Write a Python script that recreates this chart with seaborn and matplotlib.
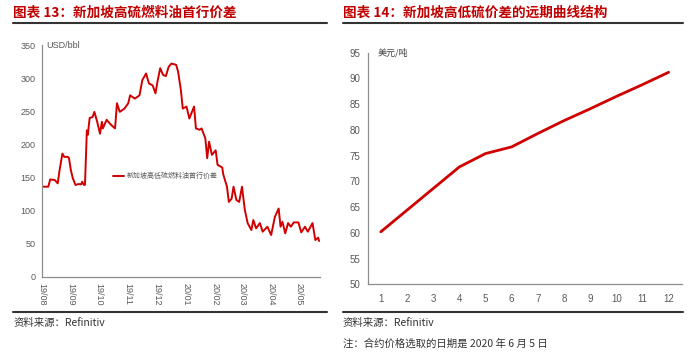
import pandas as pd
import matplotlib.pyplot as plt
import matplotlib.dates as mdates
from matplotlib.lines import Line2D
import seaborn as sns

# Fig 13: Singapore HSFO/LSFO front-month spread (USD/bbl)
spread_dates = ['2019-08-01', '2019-08-08', '2019-08-10', '2019-08-15', '2019-08-18', '2019-08-20',
                '2019-08-23', '2019-08-25', '2019-08-29', '2019-08-30', '2019-09-01', '2019-09-03',
                '2019-09-06', '2019-09-09', '2019-09-12', '2019-09-13', '2019-09-15', '2019-09-16',
                '2019-09-18', '2019-09-19', '2019-09-21', '2019-09-24', '2019-09-26', '2019-09-29',
                '2019-10-02', '2019-10-04', '2019-10-05', '2019-10-09', '2019-10-14', '2019-10-18',
                '2019-10-20', '2019-10-23', '2019-10-28', '2019-11-01', '2019-11-03', '2019-11-08',
                '2019-11-13', '2019-11-16', '2019-11-20', '2019-11-23', '2019-11-27', '2019-11-30',
                '2019-12-02', '2019-12-05', '2019-12-08', '2019-12-11', '2019-12-14', '2019-12-17',
                '2019-12-22', '2019-12-24', '2019-12-27', '2019-12-29', '2020-01-02', '2020-01-05',
                '2020-01-10', '2020-01-12', '2020-01-16', '2020-01-18', '2020-01-22', '2020-01-24',
                '2020-01-26', '2020-01-29', '2020-02-02', '2020-02-04', '2020-02-09', '2020-02-10',
                '2020-02-14', '2020-02-16', '2020-02-19', '2020-02-21', '2020-02-24', '2020-02-27',
                '2020-03-01', '2020-03-04', '2020-03-07', '2020-03-11', '2020-03-13', '2020-03-16',
                '2020-03-20', '2020-03-23', '2020-03-28', '2020-04-01', '2020-04-05', '2020-04-09',
                '2020-04-11', '2020-04-13', '2020-04-16', '2020-04-19', '2020-04-22', '2020-04-25',
                '2020-04-30', '2020-05-03', '2020-05-07', '2020-05-10', '2020-05-15', '2020-05-18',
                '2020-05-21', '2020-05-22']
spread_values = [136, 136, 147, 146, 141, 161,
                 186, 181, 181, 179, 161, 149,
                 138.5, 140, 139.5, 143.5, 138.5, 139,
                 221, 214, 240, 241, 249, 234,
                 216, 234, 224, 237, 229, 224,
                 262, 249, 254, 262, 274, 269,
                 274, 297, 307, 292, 289, 277,
                 294, 315, 305, 303, 317, 322,
                 320, 310, 282, 254, 257, 239,
                 257, 224, 222, 224, 209, 179,
                 204, 184, 191, 169, 165, 155,
                 136, 113, 118, 136, 116, 113,
                 136, 101, 81, 70.5, 85.6, 73,
                 81, 68, 75.5, 63, 90.6, 103,
                 75.5, 83, 65.5, 81, 75.5, 82,
                 82, 67, 75.5, 68, 81, 55.4,
                 59, 54]
month_ticks = ['2019-08-01', '2019-09-01', '2019-10-01', '2019-11-01', '2019-12-01',
               '2020-01-01', '2020-02-01', '2020-03-01', '2020-04-01', '2020-05-01']

# Fig 14: forward curve of the spread (USD/t)
contract_no = [1, 2, 3, 4, 5, 6, 7, 8, 9, 10, 11, 12]
curve_values = [60.2, 64.4, 68.6, 72.8, 75.4, 76.7, 79.3, 81.8, 84.1, 86.5, 88.8, 91.2]

sns.set_style("white")
plt.rcParams['font.family'] = ['Noto Sans CJK SC', 'DejaVu Sans']

red = '#D00000'
grey = '#595959'
axis_col = '#8C8C8C'
narrow = ['Liberation Sans Narrow', 'Liberation Sans', 'DejaVu Sans']

fig = plt.figure(figsize=(7, 3.53), dpi=100)
ax1 = fig.add_axes([0.0596, 0.2161, 0.3976, 0.6564])
ax2 = fig.add_axes([0.5253, 0.1946, 0.4486, 0.6561])

# left chart
df1 = pd.DataFrame({'date': pd.to_datetime(spread_dates), 'value': spread_values})
sns.lineplot(data=df1, x='date', y='value', ax=ax1, color=red, linewidth=1.4,
             label='新加坡高低硫燃料油首行价差')
ax1.set_xlim(pd.Timestamp('2019-08-01'), pd.Timestamp('2020-05-23'))
ax1.set_ylim(0, 350)
ax1.set_yticks(range(0, 351, 50))
ax1.set_xticks(pd.to_datetime(month_ticks))
ax1.xaxis.set_major_formatter(mdates.DateFormatter('%y/%m'))
ax1.set_xlabel('')
ax1.set_ylabel('')
for lab in ax1.get_xticklabels():
    lab.set_rotation(270)
ax1.tick_params(axis='both', labelsize=6.5, labelcolor=grey, color=axis_col,
                direction='out', length=2.5, width=0.8, pad=2)
for lab in ax1.get_xticklabels() + ax1.get_yticklabels():
    lab.set_family(narrow)
ax1.text(0.015, 1.0, 'USD/bbl', transform=ax1.transAxes, fontsize=6.5, color=grey,
         family=narrow, va='center', ha='left')
leg = ax1.legend(loc='center left', bbox_to_anchor=(0.255, 0.434), frameon=False,
                 fontsize=5, handlelength=1.7, handletextpad=0.3, borderpad=0,
                 borderaxespad=0)
for t in leg.get_texts():
    t.set_color(grey)

# right chart
df2 = pd.DataFrame({'contract': contract_no, 'value': curve_values})
sns.lineplot(data=df2, x='contract', y='value', ax=ax2, color=red, linewidth=2)
ax2.set_xlim(0.5, 12.5)
ax2.set_ylim(50, 95)
ax2.set_yticks(range(50, 96, 5))
ax2.set_xticks(contract_no)
ax2.set_xticks([c + 0.5 for c in [0] + contract_no], minor=True)
ax2.set_xlabel('')
ax2.set_ylabel('')
ax2.tick_params(axis='x', which='minor', direction='in', length=3, color=axis_col, width=0.8)
ax2.tick_params(axis='y', direction='out', length=2.5, color=axis_col, width=0.8)
ax2.tick_params(axis='both', labelsize=7, labelcolor=grey, pad=3)
ax2.tick_params(axis='x', which='major', length=0, pad=7)
for lab in ax2.get_xticklabels() + ax2.get_yticklabels():
    lab.set_family(narrow)
ax2.text(0.033, 1.0, '美元/吨', transform=ax2.transAxes, fontsize=6.5, color='#404040',
         va='center', ha='left')

for ax in (ax1, ax2):
    sns.despine(ax=ax)
    for side in ('left', 'bottom'):
        ax.spines[side].set_color(axis_col)
        ax.spines[side].set_linewidth(0.9)

# titles, rules and footnotes
fig.text(0.0186, 0.963, '图表 13：新加坡高硫燃料油首行价差', fontsize=9.8, fontweight='bold',
         color='#C00000', va='center', ha='left')
fig.text(0.49, 0.963, '图表 14：新加坡高低硫价差的远期曲线结构', fontsize=9.8, fontweight='bold',
         color='#C00000', va='center', ha='left')
for x0, x1 in ((0.0186, 0.467), (0.49, 0.976)):
    fig.add_artist(Line2D([x0, x1], [0.935, 0.935], color='#333333', lw=1.5))
    fig.add_artist(Line2D([x0, x1], [0.117, 0.117], color='#333333', lw=1.5))
fig.text(0.0186, 0.085, '资料来源：Refinitiv', fontsize=7.5, color='#333333', va='center', ha='left')
fig.text(0.49, 0.085, '资料来源：Refinitiv', fontsize=7.5, color='#333333', va='center', ha='left')
fig.text(0.49, 0.0255, '注：合约价格选取的日期是 2020 年 6 月 5 日', fontsize=7.5, color='#333333',
         va='center', ha='left')

fig.savefig('out.png', dpi=100)
